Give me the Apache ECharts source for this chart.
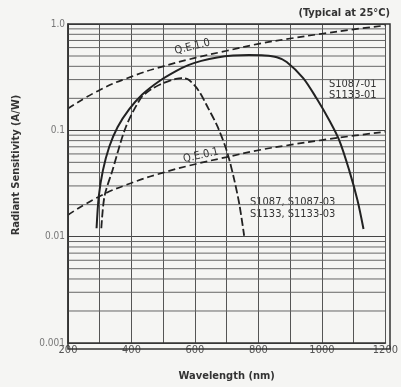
<!DOCTYPE html>
<html><head><meta charset="utf-8">
<script src="https://cdn.jsdelivr.net/npm/echarts@6/dist/echarts.min.js"></script>
<style>html,body{margin:0;padding:0;background:#f5f5f3}#c{width:401px;height:387px}</style>
</head><body><div id="c"></div>
<script>
// Wavelength (nm) / Radiant sensitivity (A/W)
const qe100 = [[200,0.16],[300,0.24],[400,0.32],[500,0.40],[600,0.48],[700,0.56],[800,0.65],[900,0.73],[1000,0.81],[1100,0.89],[1200,0.97]];
const qe10 = [[200,0.016],[300,0.024],[400,0.032],[500,0.040],[600,0.048],[700,0.056],[800,0.065],[900,0.073],[1000,0.081],[1100,0.089],[1200,0.097]];
const s1087_01 = [[290,0.012],[297,0.024],[310,0.042],[330,0.07],[356,0.107],[393,0.158],[434,0.217],[486,0.288],[540,0.36],[579,0.41],[620,0.45],[670,0.485],[720,0.505],[770,0.51],[820,0.505],[858,0.486],[889,0.44],[941,0.31],[983,0.2],[1024,0.123],[1055,0.08],[1086,0.042],[1112,0.022],[1131,0.0118]];
const s1087 = [[305,0.012],[315,0.024],[340,0.042],[382,0.107],[429,0.2],[455,0.235],[490,0.27],[517,0.29],[540,0.305],[558,0.31],[579,0.3],[610,0.24],[641,0.163],[672,0.107],[701,0.063],[724,0.034],[740,0.02],[755,0.0102]];
const yTickLabels = {1:'1.0',0.1:'0.1',0.01:'0.01',0.001:'0.001'};
const minorGrid = [0.002,0.003,0.004,0.005,0.006,0.007,0.008,0.009,0.02,0.03,0.04,0.05,0.06,0.07,0.08,0.09,0.2,0.3,0.4,0.5,0.6,0.7,0.8,0.9];
const xRange = [200,1200];

const FONT = '"Liberation Sans Narrow","DejaVu Sans Condensed","Liberation Sans",sans-serif';
const chart = echarts.init(document.getElementById('c'));
const dash = {color:'#222', width:1.7, type:[7,4]};
const gridSeries = minorGrid.map(v=>({type:'line', data:[[xRange[0],v],[xRange[1],v]], showSymbol:false, silent:true, z:1,
  lineStyle:{color:'#666', width:1}}));
chart.setOption({
  backgroundColor:'#f5f5f3',
  animation:false,
  grid:{left:68, right:11, top:24, bottom:38},
  xAxis:{type:'value', min:200, max:1200, interval:100,
    name:'Wavelength (nm)', nameLocation:'middle', nameGap:28,
    nameTextStyle:{fontFamily:FONT, fontSize:11, fontWeight:'bold', color:'#333'},
    axisLine:{show:true, lineStyle:{color:'#333', width:1.5}},
    axisTick:{show:false},
    axisLabel:{formatter:v=> (v%200===0? String(v):''), fontFamily:FONT, fontSize:11, color:'#555', margin:2},
    splitLine:{show:true, lineStyle:{color:'#555', width:1}}},
  yAxis:{type:'log', logBase:10, min:0.001, max:1,
    axisLine:{show:true, lineStyle:{color:'#333', width:1.5}},
    axisTick:{show:false},
    axisLabel:{formatter:v=> yTickLabels[v] || '', fontFamily:FONT, fontSize:10, color:'#777', margin:3},
    splitLine:{show:true, lineStyle:{color:'#444', width:1}}},
  graphic:[
    {type:'rect', shape:{x:68,y:24,width:322,height:325}, style:{fill:'none', stroke:'#333', lineWidth:1.5}, silent:true, z:10},
    {type:'text', right:11, top:8, style:{text:'(Typical at 25°C)', font:'bold 11px '+FONT, fill:'#333'}},
    {type:'text', x:16, y:165, rotation:Math.PI/2, style:{text:'Radiant Sensitivity (A/W)', font:'bold 11px '+FONT, fill:'#333', align:'center', verticalAlign:'middle'}},
    {type:'text', x:329, y:79, style:{text:'S1087-01\nS1133-01', font:'11px '+FONT, fill:'#333', lineHeight:11}},
    {type:'text', x:250, y:196, style:{text:'S1087, S1087-03\nS1133, S1133-03', font:'11px '+FONT, fill:'#333', lineHeight:12}}
  ],
  series:[
    {type:'line', data:qe100, smooth:true, showSymbol:false, lineStyle:dash, silent:true, z:3,
      markPoint:{symbol:'circle', symbolSize:0, data:[{coord:[592,0.61], label:{show:true, formatter:'Q.E.1.0', rotate:14, fontFamily:FONT, fontSize:11, color:'#333', position:'inside'}}]}},
    {type:'line', data:qe10, smooth:true, showSymbol:false, lineStyle:dash, silent:true, z:3,
      markPoint:{symbol:'circle', symbolSize:0, data:[{coord:[619,0.058], label:{show:true, formatter:'Q.E.0.1', rotate:13, fontFamily:FONT, fontSize:11, color:'#333', position:'inside'}}]}},
    {type:'line', data:s1087_01, smooth:0.3, showSymbol:false, lineStyle:{color:'#222', width:2}, silent:true, z:3},
    {type:'line', data:s1087, smooth:0.3, showSymbol:false, lineStyle:{color:'#222', width:1.8, type:[8,3]}, silent:true, z:3}
  ].concat(gridSeries)
});
</script></body></html>
